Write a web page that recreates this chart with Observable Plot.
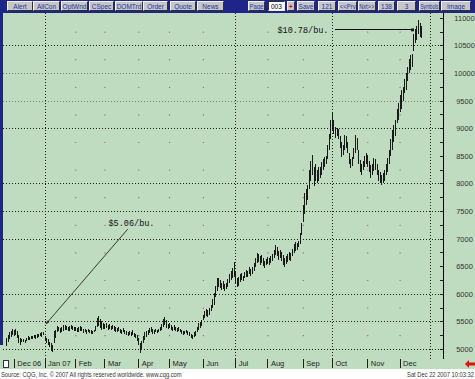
<!DOCTYPE html>
<html><head><meta charset="utf-8">
<script src="https://cdn.jsdelivr.net/npm/d3@7"></script>
<script src="https://cdn.jsdelivr.net/npm/@observablehq/plot@0.6"></script>
<style>
html,body{margin:0;padding:0;}
body{width:475px;height:379px;overflow:hidden;background:#fff;position:relative;font-family:Arial,"Liberation Sans",sans-serif;}
#bar{position:absolute;left:0;top:0;width:475px;height:13px;background:#1f2488;}
.btn{position:absolute;top:1px;height:10px;background:#c6c6c6;box-sizing:border-box;border:1px solid;border-color:#f2f2f2 #303030 #303030 #f2f2f2;display:flex;align-items:center;justify-content:center;white-space:nowrap;overflow:visible;}
.btn span{display:block;font:6.5px/7px Arial,"Liberation Sans",sans-serif;color:#1436a8;transform-origin:center;}
.inp{background:#fff;border-color:#303030 #f2f2f2 #f2f2f2 #303030;justify-content:flex-start;padding-left:2px;}
.inp span{color:#000;}
.red span{color:#e00000;font-weight:bold;}
#chart{position:absolute;left:0;top:13px;}
#strip{position:absolute;left:0;top:13px;width:3px;height:332px;background:#1f2488;}
#wbox{position:absolute;left:3px;top:360px;width:6px;height:8px;background:#fff;border:1px solid #333;box-sizing:border-box;}
#rarrow{position:absolute;left:465px;top:360px;}
#foot{position:absolute;left:0;top:369px;}
</style></head>
<body>
<div id="bar"></div>
<div id="chart"></div>
<div id="strip"></div>
<div id="wbox"></div>
<svg id="rarrow" width="10" height="8"><polygon points="0,4 4,0 4,2.5 10,2.5 10,5.5 4,5.5 4,8" fill="#e01010"/></svg>
<svg id="foot" width="475" height="10">
  <g transform="translate(1,8) scale(0.72,1)"><text x="0" y="0" font-size="8" fill="#333" font-family="Arial, Liberation Sans, sans-serif">Source: CQG, Inc. © 2007 All rights reserved worldwide. www.cqg.com</text></g>
  <g transform="translate(474,8) scale(0.72,1)"><text x="0" y="0" font-size="8" fill="#333" text-anchor="end" font-family="Arial, Liberation Sans, sans-serif">Sat Dec 22 2007 10:03:32</text></g>
</svg>
<script>
// ---------- data (daily bars, first bar = index -5, Dec 1 2006 = index 0) ----------
const firstIndex = -5;
const high = [
  // Nov 06 (tail)
  5200,5260,5300,5330,5370,
  // Dec 06
  5350,5370,5330,5250,5200,5190,5180,5170,5200,5230,5220,5240,5230,5260,5250,5270,5280,5290,5300,5310,
  // Jan 07
  5230,5200,5180,5130,5100,5080,5330,5340,5420,5400,5380,5400,5430,5440,5420,5400,5420,5440,5420,5400,
  // Feb
  5400,5380,5390,5410,5390,5370,5360,5350,5370,5350,5340,5330,5350,5420,5560,5590,5540,5500,5480,
  // Mar
  5460,5470,5440,5450,5420,5440,5410,5390,5380,5400,5360,5350,5380,5340,5320,5300,5330,5300,5340,5290,5280,5250,
  // Apr
  5200,5100,5150,5230,5300,5320,5350,5380,5400,5360,5350,5370,5350,5360,5400,5450,5540,5580,5520,5460,
  // May
  5470,5440,5400,5430,5400,5380,5390,5370,5350,5320,5330,5350,5330,5300,5280,5260,5300,5320,5400,5480,5490,5520,
  // Jun
  5620,5680,5720,5700,5740,5800,5900,6010,6150,6280,6290,6250,6200,6230,6180,6200,6260,6360,6420,6460,6580,
  // Jul
  6400,6280,6300,6350,6370,6330,6400,6440,6420,6480,6450,6490,6560,6650,6740,6720,6680,6700,6640,6600,6630,
  // Aug
  6660,6640,6690,6720,6800,6880,6850,6780,6800,6760,6700,6640,6680,6720,6760,6740,6820,6900,6940,6920,6960,7100,7280,
  // Sep
  7600,7830,7900,7980,8250,8400,8520,8300,8350,8250,8300,8300,8380,8450,8480,8500,8700,8900,9150,
  // Oct
  9280,9150,9020,9000,8980,8850,8750,8700,8880,8850,8750,8550,8450,8480,8650,8880,8820,8600,8420,8350,8400,8500,8550,
  // Nov
  8520,8400,8330,8350,8460,8450,8350,8250,8200,8150,8180,8250,8350,8460,8600,8800,8970,9050,9150,9350,9460,
  // Dec 07
  9600,9690,9750,9900,10000,10100,10250,10330,10350,10700,10800,10850,10960,10900,10850
];
const low = [
  5060,5120,5180,5220,5250,
  5230,5260,5200,5100,5080,5120,5130,5110,5140,5170,5160,5180,5190,5200,5190,5200,5210,5230,5220,5250,
  5150,5100,5080,5030,4960,4950,5100,5200,5300,5320,5290,5310,5330,5350,5340,5320,5330,5360,5340,5320,
  5320,5300,5310,5330,5320,5290,5300,5280,5300,5290,5280,5270,5300,5320,5400,5420,5380,5350,5360,
  5360,5380,5350,5370,5340,5360,5330,5310,5300,5320,5290,5280,5300,5270,5250,5230,5250,5230,5260,5220,5200,5150,
  5080,4930,5000,5100,5170,5220,5260,5290,5300,5270,5280,5300,5290,5300,5320,5350,5400,5430,5380,5360,
  5380,5350,5320,5340,5330,5300,5320,5300,5280,5250,5270,5290,5260,5230,5200,5180,5210,5240,5300,5340,5380,5420,
  5520,5560,5600,5580,5620,5680,5740,5800,5950,6050,6120,6100,6060,6080,6050,6080,6120,6200,6250,6280,6300,
  6200,6120,6150,6220,6250,6230,6280,6310,6300,6350,6330,6360,6420,6480,6550,6580,6530,6560,6500,6470,6520,
  6540,6520,6560,6600,6640,6700,6680,6620,6650,6600,6520,6480,6540,6580,6620,6600,6680,6740,6780,6800,6840,6900,7060,
  7300,7450,7600,7700,7900,8050,8150,7950,8050,8000,8050,8100,8150,8250,8300,8350,8450,8600,8800,
  8950,8900,8820,8850,8800,8650,8480,8520,8600,8650,8550,8350,8280,8320,8450,8550,8600,8350,8200,8150,8250,8300,8350,
  8300,8200,8100,8150,8220,8250,8150,8050,8000,7970,8000,8050,8150,8200,8350,8500,8600,8750,8850,9100,9150,
  9300,9350,9500,9640,9700,9850,10000,10050,10100,10400,10540,10600,10700,10650,10640
];
const monthLabels = ["Dec 06","Jan 07","Feb","Mar","Apr","May","Jun","Jul","Aug","Sep","Oct","Nov","Dec"];
const monthStart  = [0,20,40,59,81,101,123,144,165,188,207,230,251];
const quarterStart = [20,144,207,271];
const dotMonths = [40,59,81,101,123,165,188,230,251];
const yTickLabels = [11000,10500,10000,9500,9000,8500,8000,7500,7000,6500,6000,5500,5000];
const gridDark = [10500,9000,8000,7500,7000,6000,5500,5000];
const gridLight = [10000,9500];
const dotLevels = [5250,5750,6250,6750,7250,7750,8250,8750,9250,9750,10250,10750];
const minorTicks = d3.range(5000, 11001, 250);
const note1 = {text:"$5.06/bu.", tx:61.3, ty:7292, x1:73.6, y1:7174, x2:20.9, y2:5471};
const note2 = {text:"$10.78/bu.", tx:204.4, y:10790, x1:209, x2:259.1};

// ---------- toolbar ----------
const tools = [["Alert",7,32],["AllCon",33,59],["OptWnd",61,87],["CSpec",89,113],["DOMTrd",115,142],["Order",143,167],["Quote",170,195],["News",197,223],
  ["Page",248,264],["003",268,284,"inp"],["+",287,294,"red"],["Save",297,314],["121",318,335],["<<Prv",338,356],["Nxt>>",358,375],["138",378,394],["3",397,415],["Symbols",419,439],["Image",441,470]];
const bar = document.getElementById("bar");
for (const [t,a,b,c] of tools) {
  const d = document.createElement("div");
  d.className = "btn" + (c ? " " + c : "");
  d.style.left = a + "px"; d.style.width = (b - a + 1) + "px";
  const s = document.createElement("span");
  s.textContent = t; d.appendChild(s); bar.appendChild(d);
  const avail = b - a - 2, need = s.getBoundingClientRect().width;
  if (need > avail) s.style.transform = `scaleX(${(avail / need).toFixed(3)})`;
}

// ---------- chart ----------
const bars = high.map((h, k) => ({i: k + firstIndex, hi: h, lo: low[k]}));
const X0 = -7.03, X1 = 279.25, Y0 = 4819, Y1 = 11087, Ysep = 4656;
const dotGrid = dotMonths.flatMap(m => dotLevels.map(v => ({x: m, y: v})));
const months = monthLabels.map((m, k) => ({label: m, start: monthStart[k]}));

const chart = Plot.plot({
  width: 475, height: 356,
  marginLeft: 3, marginRight: 32, marginTop: 0, marginBottom: 10,
  x: {domain: [X0, X1], axis: null},
  y: {domain: [Y0, Y1], axis: null},
  style: {background: "#c0dcc0", overflow: "visible"},
  marks: [
    Plot.ruleY(gridDark, {y: d => d, x1: X0, x2: X1, stroke: "#202020", strokeDasharray: "1,2", shapeRendering: "crispEdges"}),
    Plot.ruleY(gridLight, {y: d => d, x1: X0, x2: X1, stroke: "#7a7a7a", strokeDasharray: "1,2", shapeRendering: "crispEdges"}),
    Plot.ruleX(quarterStart, {x: d => d, y1: Y0, y2: Y1, stroke: "#202020", strokeDasharray: "1,2", shapeRendering: "crispEdges"}),
    Plot.dot(dotGrid, {x: "x", y: "y", r: 0.6, fill: "#a03ca0", stroke: null}),
    Plot.ruleY(minorTicks, {y: d => d, x1: X1 - 2, x2: X1, stroke: "#202020", shapeRendering: "crispEdges"}),
    Plot.ruleX([X1], {x: d => d, y1: Y0, y2: Y1, stroke: "#000", shapeRendering: "crispEdges"}),
    Plot.ruleX(bars, {x: "i", y1: "lo", y2: "hi", stroke: "#1a1a1a", shapeRendering: "crispEdges"}),
    Plot.arrow([note1], {x1: "x1", y1: "y1", x2: "x2", y2: "y2", stroke: "#111", strokeWidth: 0.8, headLength: 5, headAngle: 40}),
    Plot.text([note1], {x: "tx", y: "ty", text: "text", textAnchor: "start", fontSize: 8.5, fontFamily: "Liberation Mono, DejaVu Sans Mono, monospace", fill: "#111"}),
    Plot.ruleY([note2], {y: "y", x1: "x1", x2: "x2", stroke: "#111", strokeWidth: 1, shapeRendering: "crispEdges"}),
    Plot.dot([note2], {x: "x2", y: "y", symbol: "square", r: 1.6, fill: "#111", stroke: null}),
    Plot.text([note2], {x: "tx", y: "y", text: "text", textAnchor: "end", fontSize: 8.5, fontFamily: "Liberation Mono, DejaVu Sans Mono, monospace", fill: "#111"}),
    Plot.text(yTickLabels, {x: X1, y: d => d, dx: 21, text: d => String(d), textAnchor: "middle", fontSize: 7.5, fill: "#333", fontFamily: "Arial, Liberation Sans, sans-serif"}),
    Plot.ruleX(monthStart, {x: d => d, y1: Ysep, y2: Y0, stroke: "#202020", shapeRendering: "crispEdges"}),
    Plot.text(months, {x: "start", y: Y0, text: "label", dx: 3, dy: 4.5, textAnchor: "start", fontSize: 7.5, fill: "#222", fontFamily: "Arial, Liberation Sans, sans-serif"})
  ]
});
document.getElementById("chart").appendChild(chart);
</script>
</body></html>
